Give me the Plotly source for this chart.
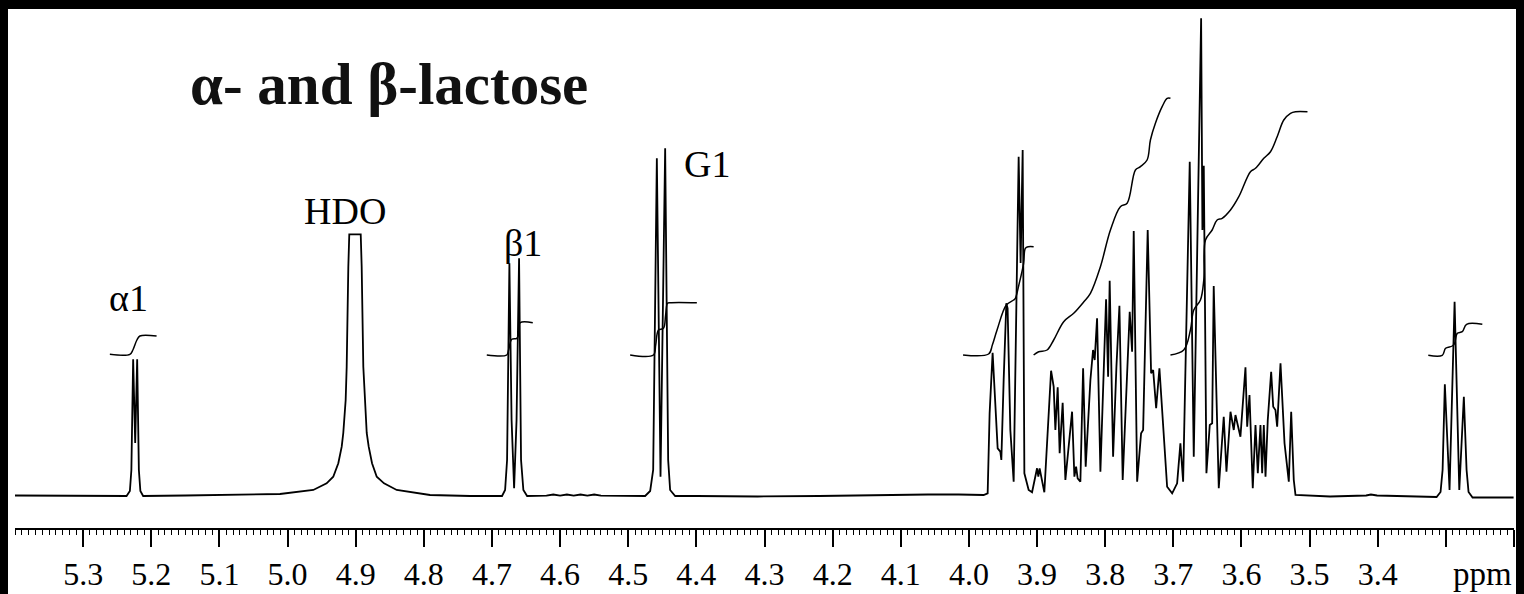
import plotly.graph_objects as go

# ---------------- data (chemical shift in ppm, relative intensity) ----------------
spec_ppm = [
    5.400, 5.300, 5.250, 5.2363, 5.2314, 5.2292, 5.2266, 5.2236, 5.2207, 5.2182, 5.2160, 5.2119,
    5.150, 5.0802, 5.0111, 4.9622, 4.9426, 4.9329, 4.9255, 4.9205, 4.9182, 4.9147, 4.9132, 4.9108,
    4.9094, 4.8926, 4.8912, 4.8888, 4.8868, 4.8838, 4.8809, 4.8760, 4.8691, 4.8584, 4.8398, 4.7909,
    4.7321,
    4.6852, 4.6807, 4.6778, 4.6744, 4.6712, 4.6675, 4.6639, 4.6602, 4.6573, 4.6539, 4.6484,
    4.620, 4.610, 4.600, 4.590, 4.580, 4.570, 4.560, 4.550, 4.540, 4.530,
    4.4752, 4.4678, 4.4634, 4.4580, 4.4526, 4.4458, 4.4414, 4.4385, 4.4311,
    4.400, 4.310, 4.220, 4.130, 4.060, 4.015, 3.9784,
    3.9725, 3.9696, 3.9652, 3.9612, 3.9578, 3.9539, 3.9524, 3.9490, 3.9451, 3.9432, 3.9392, 3.9343,
    3.9270, 3.9241, 3.9211, 3.9186, 3.9123, 3.9073, 3.9000, 3.8981, 3.8962, 3.8893, 3.8830, 3.8794,
    3.8756, 3.8731, 3.8697, 3.8668, 3.8624, 3.8584, 3.8486, 3.8452, 3.8427, 3.8404, 3.8364, 3.8324,
    3.8286, 3.8217, 3.8178, 3.8154, 3.8119, 3.8070, 3.7987, 3.7957, 3.7934, 3.7884, 3.7835, 3.7791,
    3.7743, 3.7640, 3.7605, 3.7581, 3.7531, 3.7473, 3.7443, 3.7376, 3.7326, 3.7296, 3.7252, 3.7204,
    3.7164, 3.7091, 3.7017, 3.6944, 3.6896, 3.6856, 3.6759, 3.6700, 3.6592, 3.6573, 3.6553, 3.6514,
    3.6465, 3.6430, 3.6407, 3.6333, 3.6260, 3.6220, 3.6161, 3.6113, 3.6088, 3.6015, 3.5941, 3.5916,
    3.5882, 3.5834, 3.5794, 3.5760, 3.5721, 3.5696, 3.5672, 3.5647, 3.5614, 3.5564, 3.5534, 3.5501,
    3.5476, 3.5427, 3.5368, 3.5305, 3.5270, 3.5232, 3.5207,
    3.470, 3.417, 3.410, 3.401, 3.340,
    3.3136, 3.3078, 3.3048, 3.3015, 3.2946, 3.2872, 3.2803, 3.2736, 3.2696, 3.2667, 3.2608, 3.2006,
]
spec_int = [
    0.5, 0.3, 0, 0, 5, 26, 136.7, 53, 136.7, 26, 5, 0,
    0.5, 1, 2, 6, 12.7, 19.3, 32.7, 49.3, 63, 96, 129.3, 229.3,
    261.7, 261.7, 229.3, 129.3, 96, 63, 49.3, 32.7, 19.3, 12.7, 6, 1,
    0,
    0, 6, 36, 232.7, 76, 7.7, 76, 237.7, 36, 6, 0,
    0.3, 1.5, 0.3, 1.5, 0.3, 1.5, 0.3, 1.5, 0.3, 0.3,
    0, 5, 26, 337.7, 19.3, 347.7, 36, 6, 0,
    0, -0.5, 0, 1, 1.5, 1.5, 1,
    2.7, 82.7, 143.3, 82.7, 47.7, 44.3, 36, 116, 192.7, 187.7, 66, 14.3,
    339.3, 233, 346, 22.7, 6, 3.7, 27.7, 19.3, 27.7, 3.7, 82.7, 125.3,
    109.3, 66, 108.7, 42.7, 93.3, 16, 84.3, 19.3, 29.3, 17.7, 14.3, 127.7,
    29.3, 116, 146, 136, 177.7, 24.3, 196.7, 119.3, 215.3, 39.3, 129.3, 190.3,
    16, 184.3, 144.3, 265, 14.3, 62.7, 66, 266, 122.7, 126, 87.7, 127.7,
    86, 9.3, 2.7, 12.7, 52.7, 14.3, 334.3, 39.3, 477.7, 266, 330.3, 22.7,
    71, 72.7, 210, 7.7, 79.3, 24.3, 84.3, 66, 81, 59.3, 128.7, 69.3,
    101, 7.7, 71, 22.7, 71, 22.7, 71, 19.3, 76, 124.3, 89.3, 86,
    69.3, 132.7, 52.7, 14.3, 84.3, 16, 1,
    -0.5, 0.5, 1.5, 0.5, -1,
    -1, 4, 26, 111.7, 6, 194.3, 6, 99.3, 26, 4, -1.5, -1.5,
]

# integral traces (ppm, level)
int_a1_ppm = [5.2608, 5.2314, 5.2270, 5.2211, 5.2167, 5.1922]
int_a1_val = [141.7, 141.7, 146, 156, 160, 160]
int_b1_ppm = [4.7076, 4.6783, 4.6756, 4.6709, 4.6636, 4.6609, 4.6587, 4.6401]
int_b1_val = [141, 141, 146, 156.7, 157.7, 161, 173.3, 173.3]
int_g1_ppm = [4.4972, 4.4630, 4.4597, 4.4556, 4.4483, 4.4451, 4.4424, 4.4385, 4.3993]
int_g1_val = [141, 141, 151, 166, 167.7, 181, 192.7, 193.3, 193.3]
int_c1_ppm = [4.0086, 3.9711, 3.9656, 3.9587, 3.9451, 3.9343, 3.9318, 3.9267, 3.9197, 3.9172, 3.9128, 3.9050]
int_c1_val = [141, 142, 151, 166, 191, 196, 197.7, 211, 232.7, 247.7, 249.3, 249.3]
int_c2_ppm = [3.9050, 3.8976, 3.8853, 3.8756, 3.8609, 3.8462, 3.8316, 3.8217, 3.8070, 3.7923,
              3.7777, 3.7678, 3.7556, 3.7483, 3.7385, 3.7336, 3.7263, 3.7164, 3.7091, 3.7042]
int_c2_val = [141, 144.3, 146, 156, 174.3, 182.7, 194, 202.7, 229.3, 266,
              289.3, 292.7, 326, 329.3, 336, 356, 372.7, 389.3, 397.7, 397.7]
int_c3_ppm = [3.7042, 3.6847, 3.6749, 3.6700, 3.6602, 3.6553, 3.6528, 3.6430, 3.6357, 3.6283, 3.6161,
              3.6039, 3.5868, 3.5794, 3.5672, 3.5574, 3.5476, 3.5379, 3.5280, 3.5207, 3.5031]
int_c3_val = [141, 146, 166, 186, 196, 216, 256, 266, 276, 277.7, 286,
              299.3, 324.3, 327.7, 337.7, 344.3, 359.3, 376, 382.7, 384.3, 384.3]
int_t_ppm = [3.3258, 3.3053, 3.3004, 3.2906, 3.2872, 3.2832, 3.2759, 3.2696, 3.2465]
int_t_val = [140.7, 140.7, 147.7, 150, 152.7, 162.7, 164.3, 171.7, 171.7]

tick_values = [5.3, 5.2, 5.1, 5.0, 4.9, 4.8, 4.7, 4.6, 4.5, 4.4, 4.3, 4.2, 4.1, 4.0,
               3.9, 3.8, 3.7, 3.6, 3.5, 3.4, 3.3, 3.2]
tick_labels = ["5.3", "5.2", "5.1", "5.0", "4.9", "4.8", "4.7", "4.6", "4.5", "4.4", "4.3",
               "4.2", "4.1", "4.0", "3.9", "3.8", "3.7", "3.6", "3.5", "3.4", "", ""]

peak_labels = ["α1", "HDO", "β1", "G1"]
peak_label_ppm = [5.233, 4.915, 4.654, 4.384]
peak_label_int = [198, 285, 253, 332]

title_text = "<b>α- and β-lactose</b>"

# ---------------- figure ----------------
W, H = 1524, 594
ML, MR, MT, MB = 15, 10, 10, 66
FONT = "Liberation Serif, Times New Roman, serif"

fig = go.Figure()
line_style = dict(color="black", width=1.8)
fig.add_trace(go.Scatter(x=spec_ppm, y=spec_int, mode="lines", line=line_style,
                         hoverinfo="skip", showlegend=False))
for xs, ys in [(int_a1_ppm, int_a1_val), (int_b1_ppm, int_b1_val), (int_g1_ppm, int_g1_val),
               (int_c1_ppm, int_c1_val), (int_c2_ppm, int_c2_val), (int_c3_ppm, int_c3_val),
               (int_t_ppm, int_t_val)]:
    fig.add_trace(go.Scatter(x=xs, y=ys, mode="lines", line=dict(color="black", width=1.5),
                             line_shape="spline", hoverinfo="skip", showlegend=False))

for txt, px, py in zip(peak_labels, peak_label_ppm, peak_label_int):
    fig.add_annotation(x=px, y=py, text=txt, showarrow=False, xanchor="center",
                       yanchor="middle", font=dict(family=FONT, size=38, color="black"))

pw = W - ML - MR
ph = H - MT - MB


def px_x(p):
    return (p - ML) / pw


def px_y(p):
    return (H - MB - p) / ph


fig.add_annotation(xref="paper", yref="paper", x=px_x(188), y=px_y(84), text=title_text,
                   showarrow=False, xanchor="left", yanchor="middle",
                   font=dict(family=FONT, size=59, color="#111111"))
fig.add_annotation(xref="x", yref="paper", x=3.2, y=px_y(574), text="ppm", showarrow=False,
                   xanchor="right", yanchor="middle",
                   font=dict(family=FONT, size=33, color="black"))

# black border strips of the scanned figure
for x0, x1, y0, y1 in [(0, W, 0, 9), (0, 8, 0, H), (1516, W, 0, H)]:
    fig.add_shape(type="rect", xref="paper", yref="paper", x0=px_x(x0), x1=px_x(x1),
                  y0=px_y(y1), y1=px_y(y0), fillcolor="black", line=dict(width=0), layer="above")

fig.update_layout(
    width=W, height=H, margin=dict(l=ML, r=MR, t=MT, b=MB, autoexpand=False),
    paper_bgcolor="white", plot_bgcolor="white",
    xaxis=dict(range=[5.4, 3.2], showgrid=False, zeroline=False, showline=True, automargin=False,
               linecolor="black", linewidth=1.5, ticks="outside", ticklen=17, tickwidth=1.5,
               tickcolor="black", tickmode="array", tickvals=tick_values, ticktext=tick_labels,
               ticklabelstandoff=0,
               tickfont=dict(family=FONT, size=32, color="black"),
               minor=dict(tickmode="linear", tick0=3.2, dtick=0.01, ticks="outside",
                          ticklen=5, tickwidth=1, tickcolor="black", showgrid=False)),
    yaxis=dict(range=[-32, 486], visible=False, automargin=False),
)

fig.write_html("out.html", config={"displayModeBar": False},
               post_script="document.body.style.margin='0';")
